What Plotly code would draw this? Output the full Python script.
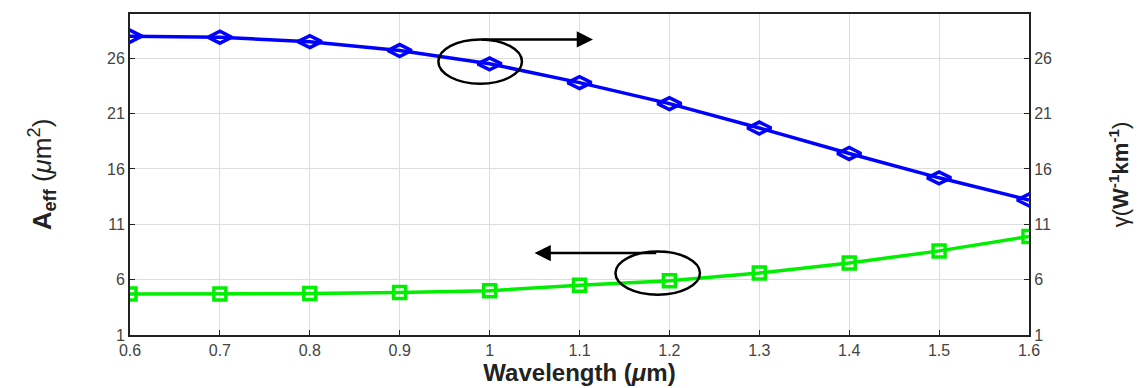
import plotly.graph_objects as go

wavelength = [0.6, 0.7, 0.8, 0.9, 1.0, 1.1, 1.2, 1.3, 1.4, 1.5, 1.6]
gamma_vals = [28.0, 27.9, 27.5, 26.7, 25.5, 23.8, 21.9, 19.7, 17.4, 15.2, 13.2]
aeff_vals = [4.7, 4.7, 4.75, 4.85, 5.0, 5.5, 5.9, 6.6, 7.5, 8.6, 9.9]
x_ticks = [0.6, 0.7, 0.8, 0.9, 1.0, 1.1, 1.2, 1.3, 1.4, 1.5, 1.6]
x_tick_text = ["0.6", "0.7", "0.8", "0.9", "1", "1.1", "1.2", "1.3", "1.4", "1.5", "1.6"]
y_ticks = [1, 6, 11, 16, 21, 26]

fig = go.Figure()
fig.add_trace(go.Scatter(
    x=wavelength, y=gamma_vals, mode="lines+markers", yaxis="y2",
    line=dict(color="#0000ff", width=3.5),
    marker=dict(symbol="diamond-wide-open", size=17, color="#0000ff", line=dict(width=3.5)),
    showlegend=False))
fig.add_trace(go.Scatter(
    x=wavelength, y=aeff_vals, mode="lines+markers",
    line=dict(color="#00ee00", width=3.5),
    marker=dict(symbol="square-open", size=12, color="#00ee00", line=dict(width=3.5)),
    showlegend=False))

tickfont = dict(family="Liberation Sans, Arial", size=16, color="#444")
fig.update_layout(
    width=1145, height=388,
    margin=dict(l=130, r=116, t=14, b=50),
    paper_bgcolor="white", plot_bgcolor="white",
    xaxis=dict(range=[0.6, 1.6], tickvals=x_ticks, ticktext=x_tick_text,
               showgrid=True, gridcolor="#dddddd", gridwidth=1,
               showline=True, linecolor="#222", linewidth=2, mirror=True,
               ticks="inside", ticklen=5, tickcolor="#222", tickfont=tickfont,
               zeroline=False,
               title=dict(text="<b>Wavelength (<i>μ</i>m)</b>",
                          font=dict(family="Liberation Sans, Arial", size=24, color="#222"),
                          standoff=0)),
    yaxis=dict(range=[1, 30], tickvals=y_ticks,
               showgrid=True, gridcolor="#dddddd", gridwidth=1,
               showline=True, linecolor="#222", linewidth=2,
               ticks="inside", ticklen=5, tickcolor="#222", tickfont=tickfont,
               zeroline=False,
               title=dict(text="<b>A<sub>eff</sub></b> (<i>μ</i>m<sup>2</sup>)",
                          font=dict(family="Liberation Sans, Arial", size=26, color="#222"),
                          standoff=48)),
    yaxis2=dict(range=[1, 30], tickvals=y_ticks, overlaying="y", side="right",
                showgrid=False, showline=True, linecolor="#222", linewidth=2,
                ticks="inside", ticklen=5, tickcolor="#222", tickfont=tickfont,
                zeroline=False,
                title=dict(text="γ(<b>W<sup>-1</sup>km<sup>-1</sup></b>)",
                           font=dict(family="Liberation Sans, Arial", size=22, color="#222"),
                           standoff=62)),
)

# circles
fig.add_shape(type="circle", xref="x", yref="y", x0=0.943, x1=1.036, y0=23.7, y1=27.7,
              line=dict(color="black", width=2.5))
fig.add_shape(type="circle", xref="x", yref="y", x0=1.14, x1=1.234, y0=4.64, y1=8.55,
              line=dict(color="black", width=2.5))
# arrows
fig.add_annotation(x=1.115, y=27.7, ax=0.99, ay=27.7, xref="x", yref="y", axref="x", ayref="y",
                   showarrow=True, arrowhead=2, arrowsize=1.3, arrowwidth=2.5, arrowcolor="black", text="")
fig.add_annotation(x=1.05, y=8.4, ax=1.187, ay=8.4, xref="x", yref="y", axref="x", ayref="y",
                   showarrow=True, arrowhead=2, arrowsize=1.3, arrowwidth=2.5, arrowcolor="black", text="")

fig.write_html("out.html")
